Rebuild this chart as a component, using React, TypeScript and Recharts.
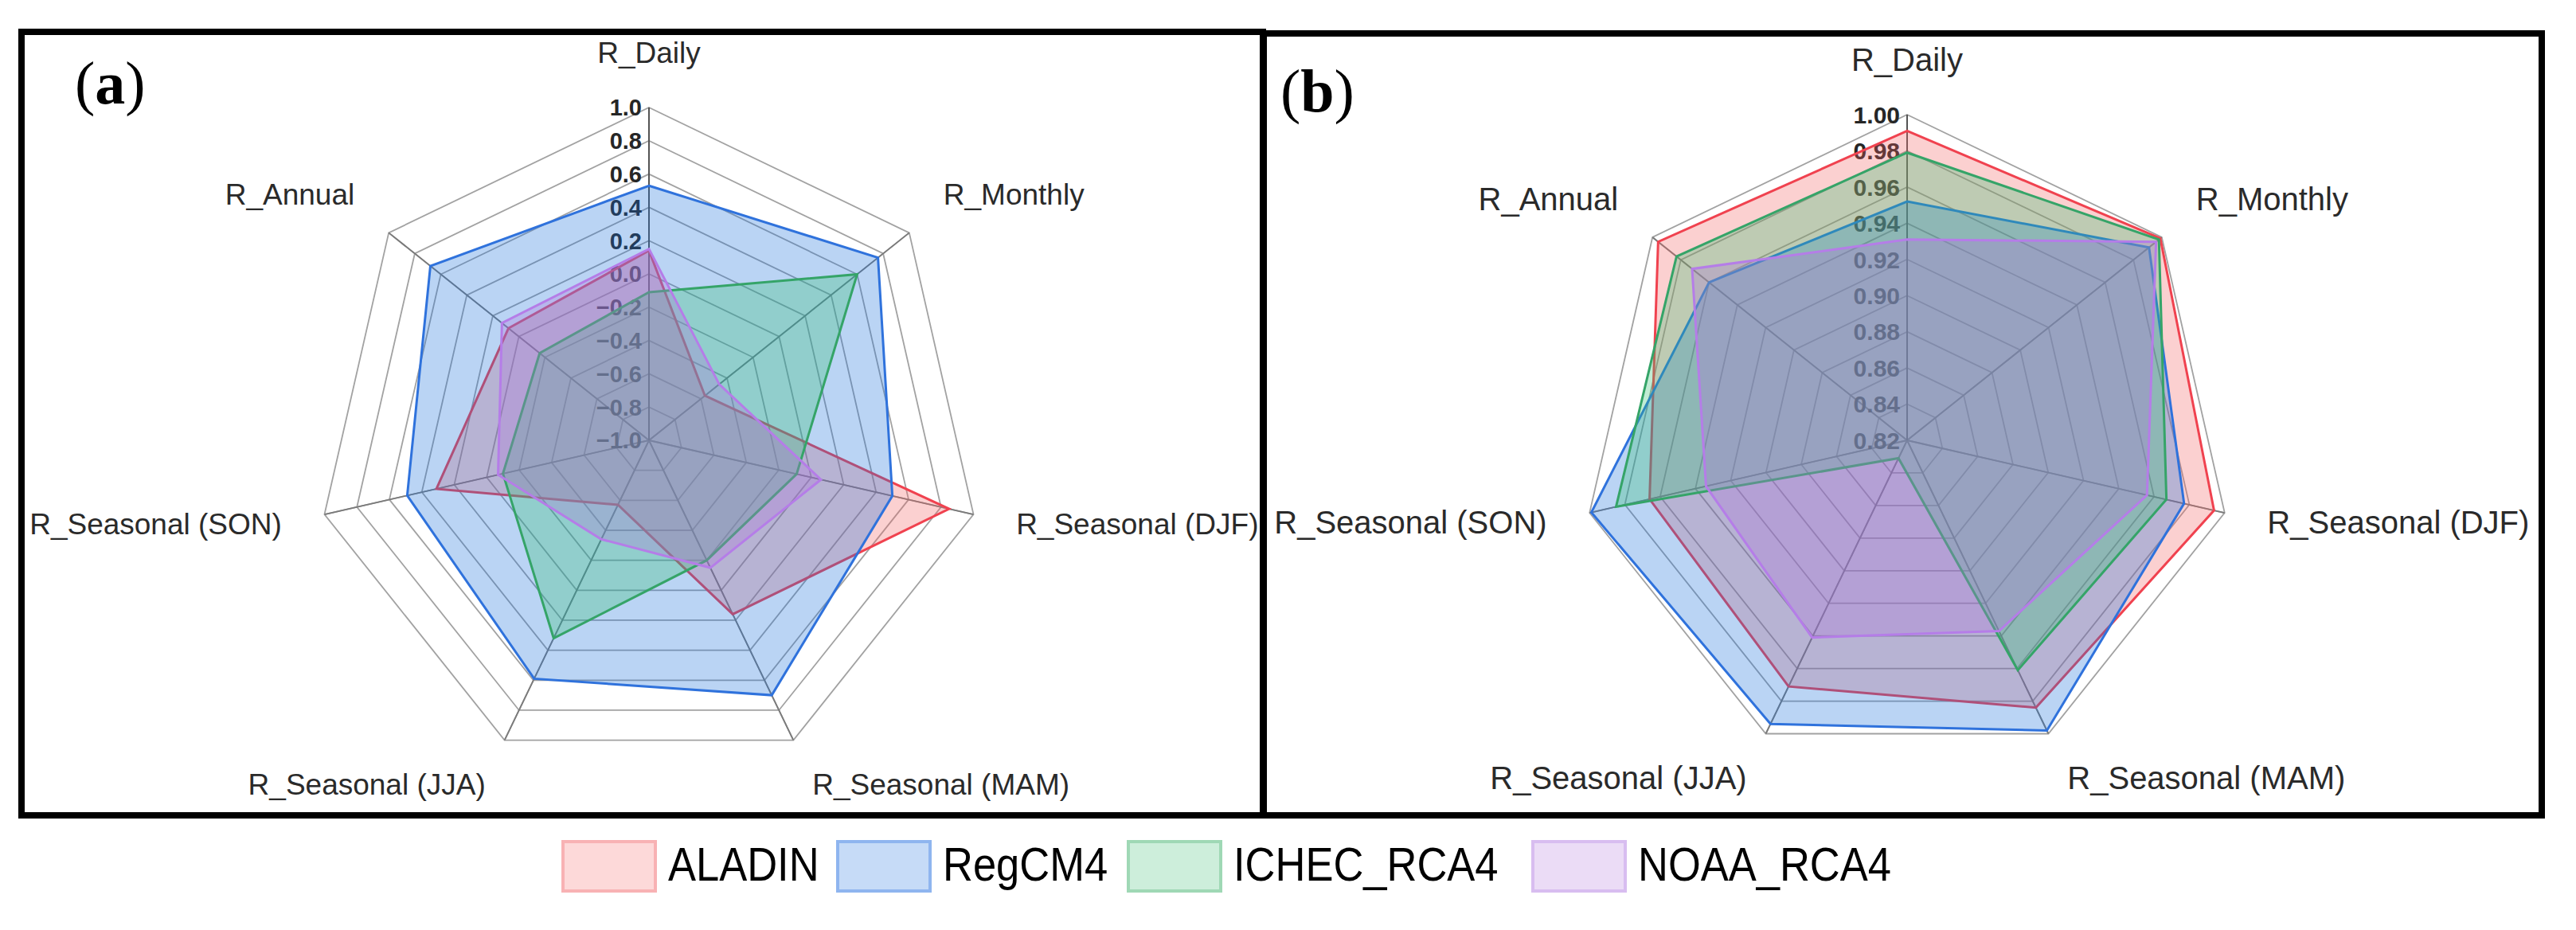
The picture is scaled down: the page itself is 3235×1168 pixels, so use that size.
import React from 'react';
import { RadarChart, Radar, PolarGrid, PolarAngleAxis, PolarRadiusAxis } from 'recharts';

// axes, clockwise from the top
const categories = [
  'R_Daily',
  'R_Monthly',
  'R_Seasonal (DJF)',
  'R_Seasonal (MAM)',
  'R_Seasonal (JJA)',
  'R_Seasonal (SON)',
  'R_Annual',
];

const seriesNames = ['ALADIN', 'RegCM4', 'ICHEC_RCA4', 'NOAA_RCA4'];

// panel (a)
const ticksA = [-1.0, -0.8, -0.6, -0.4, -0.2, 0.0, 0.2, 0.4, 0.6, 0.8, 1.0];
const aladinA = [0.14, -0.57, 0.85, 0.16, -0.57, 0.31, 0.08];
const regcmA = [0.53, 0.76, 0.5, 0.7, 0.59, 0.49, 0.68];
const ichecA = [-0.11, 0.6, -0.09, -0.2, 0.32, -0.1, -0.16];
const noaaA = [0.15, -0.46, 0.06, -0.15, -0.34, -0.07, 0.13];

// panel (b)
const ticksB = [0.82, 0.84, 0.86, 0.88, 0.9, 0.92, 0.94, 0.96, 0.98, 1.0];
const aladinB = [0.991, 0.999, 0.994, 0.984, 0.971, 0.966, 0.996];
const regcmB = [0.952, 0.991, 0.977, 0.998, 0.994, 0.999, 0.96];
const ichecB = [0.979, 0.998, 0.967, 0.961, 0.831, 0.985, 0.983];
const noaaB = [0.931, 0.996, 0.956, 0.937, 0.941, 0.934, 0.972];

const STROKES = ['#f0424f', '#2f72dc', '#35a468', '#b57de8'];
const FILLS = ['#f36363', '#1b6fdb', '#33bf6f', '#af73db'];
const SWATCH_FILL = ['#fdd9d9', '#c6dbf7', '#cdeedb', '#ebdcf6'];
const SWATCH_EDGE = ['#f8b2b4', '#8fb5ef', '#9fd8b5', '#d8bdf0'];

const FONT = '"Liberation Sans", Arial, sans-serif';

function buildRows(series: number[][]) {
  return categories.map((axis, i) => {
    const row: Record<string, string | number> = { axis };
    seriesNames.forEach((name, s) => {
      row[name] = series[s][i];
    });
    return row;
  });
}

const rowsA = buildRows([aladinA, regcmA, ichecA, noaaA]);
const rowsB = buildRows([aladinB, regcmB, ichecB, noaaB]);

function fmtTick(v: number, digits: number) {
  const s = Math.abs(v).toFixed(digits);
  if (v < -1e-9) return '\u2212' + s;
  return s;
}

function makeAngleTick(cx: number, cy: number, r: number, fontSize: number, gap: number) {
  return (props: any) => {
    const i = categories.indexOf(props.payload.value);
    const ang = ((90 - (i * 360) / categories.length) * Math.PI) / 180;
    const cos = Math.cos(ang);
    const sin = Math.sin(ang);
    const rr = r + gap;
    const x = cx + rr * cos;
    let y = cy - rr * sin;
    const anchor = Math.abs(cos) < 0.05 ? 'middle' : cos > 0 ? 'start' : 'end';
    if (sin > 0.5) y -= 14;
    else if (sin < -0.5) y += 6;
    return (
      <text x={x} y={y} dy="0.35em" textAnchor={anchor} fontSize={fontSize} fontFamily={FONT} fill="#2a2a2a">
        {props.payload.value}
      </text>
    );
  };
}

function makeRadiusTick(digits: number, fontSize: number) {
  return (props: any) => (
    <text
      x={props.x - 9}
      y={props.y}
      dy="0.36em"
      textAnchor="end"
      fontSize={fontSize}
      fontWeight="bold"
      fontFamily={FONT}
      fill="#262626"
    >
      {fmtTick(props.payload.value, digits)}
    </text>
  );
}

type PanelProps = {
  rows: Record<string, string | number>[];
  width: number;
  height: number;
  cx: number;
  cy: number;
  r: number;
  ticks: number[];
  digits: number;
  labelSize: number;
  tickSize: number;
};

function Panel({ rows, width, height, cx, cy, r, ticks, digits, labelSize, tickSize }: PanelProps) {
  const domain: [number, number] = [ticks[0], ticks[ticks.length - 1]];
  return (
    <RadarChart
      width={width}
      height={height}
      data={rows}
      cx={cx}
      cy={cy}
      outerRadius={r}
      margin={{ top: 0, right: 0, bottom: 0, left: 0 }}
    >
      <PolarGrid gridType="polygon" stroke="#a2a2a2" strokeWidth={1.8} />
      <PolarGrid gridType="polygon" polarRadius={[]} stroke="#7a7a7a" strokeWidth={1.8} />
      <PolarAngleAxis
        dataKey="axis"
        axisLine={false}
        tickLine={false}
        tick={makeAngleTick(cx, cy, r, labelSize, 55)}
      />
      <PolarRadiusAxis
        angle={90}
        type="number"
        domain={domain}
        ticks={ticks}
        tickCount={ticks.length}
        allowDataOverflow
        axisLine={{ stroke: '#4a4a4a', strokeWidth: 1.6 }}
        tickLine={false}
        tick={makeRadiusTick(digits, tickSize)}
        zIndex={0}
      />
      {seriesNames.map((name, s) => (
        <Radar
          key={name}
          name={name}
          dataKey={name}
          stroke={STROKES[s]}
          strokeWidth={3}
          fill={FILLS[s]}
          fillOpacity={0.3}
          dot={false}
          isAnimationActive={false}
        />
      ))}
    </RadarChart>
  );
}

const legendSwatchX = [705, 1050, 1415, 1923];

function Legend() {
  return (
    <svg width={3235} height={120} style={{ position: 'absolute', left: 0, top: 1040 }}>
      {seriesNames.map((name, s) => (
        <g key={name}>
          <rect
            x={legendSwatchX[s] + 2}
            y={17}
            width={116}
            height={62}
            fill={SWATCH_FILL[s]}
            stroke={SWATCH_EDGE[s]}
            strokeWidth={4}
          />
          <text
            x={legendSwatchX[s] + 134}
            y={66}
            fontSize={60}
            fontFamily={FONT}
            fill="#000"
            transform={`translate(${(legendSwatchX[s] + 134) * 0.125} 0) scale(0.875 1)`}
          >
            {name}
          </text>
        </g>
      ))}
    </svg>
  );
}

function PanelLabel({ letter, x, y }: { letter: string; x: number; y: number }) {
  return (
    <div
      style={{
        position: 'absolute',
        left: x,
        top: y,
        fontFamily: '"Liberation Serif", "Times New Roman", serif',
        fontSize: 76,
        lineHeight: '76px',
        color: '#000',
      }}
    >
      (<b>{letter}</b>)
    </div>
  );
}

export default function App() {
  return (
    <div style={{ position: 'relative', width: 3235, height: 1168, background: '#fff', overflow: 'hidden' }}>
      <style>{`body{margin:0;}`}</style>
      <div
        style={{
          position: 'absolute',
          left: 23,
          top: 36,
          width: 1567,
          height: 992,
          border: '8px solid #000',
          boxSizing: 'border-box',
        }}
      />
      <div
        style={{
          position: 'absolute',
          left: 1583,
          top: 38,
          width: 1613,
          height: 990,
          border: '8px solid #000',
          boxSizing: 'border-box',
        }}
      />
      <div style={{ position: 'absolute', left: 0, top: 0 }}>
        <Panel
          rows={rowsA}
          width={1585}
          height={1040}
          cx={815}
          cy={553}
          r={418}
          ticks={ticksA}
          digits={1}
          labelSize={37}
          tickSize={29}
        />
      </div>
      <div style={{ position: 'absolute', left: 1590, top: 0 }}>
        <Panel
          rows={rowsB}
          width={1640}
          height={1040}
          cx={805}
          cy={553}
          r={409}
          ticks={ticksB}
          digits={2}
          labelSize={40}
          tickSize={30}
        />
      </div>
      <PanelLabel letter="a" x={94} y={66} />
      <PanelLabel letter="b" x={1608} y={76} />
      <Legend />
    </div>
  );
}
